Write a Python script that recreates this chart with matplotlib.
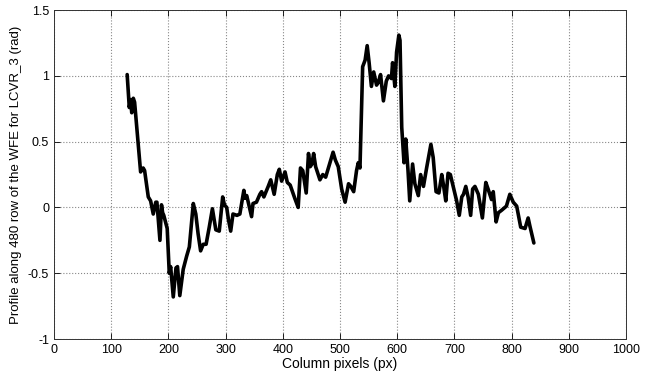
import matplotlib
matplotlib.use('Agg')
import matplotlib.pyplot as plt

# profile values
col_px = [128, 131.7, 134, 136, 138.7, 141, 145.7, 151.5, 156, 158.5, 164.9, 169,
          173.6, 178, 180, 185.3, 188, 190, 192, 198, 201.6, 204, 208.6, 213.3,
          216, 220, 226, 232, 236.7, 240.8, 243.6, 248, 252, 256.4, 261, 266,
          271.5, 277, 283, 289, 295, 298, 302, 305, 309, 313, 320, 325, 332,
          334, 337, 345.5, 348, 354, 360, 363, 367, 374.6, 379, 385, 390.5, 394,
          398, 404, 408, 413, 421, 427, 431, 435, 441, 445, 448, 451, 454, 457.5,
          465, 470, 475, 482.5, 488, 492, 497, 503, 509, 515, 519, 524, 529, 532,
          535, 539.7, 544, 547.6, 551, 555, 559, 564, 567, 571, 576, 581, 585,
          590, 592, 596, 599, 603, 605, 608, 612, 615, 619, 622, 627, 631, 637,
          641, 646, 651.5, 659, 663, 668, 673, 678, 681, 685, 689, 693, 698, 704,
          708.6, 713, 716, 720, 724, 728.5, 732, 736, 742, 749, 755, 759, 765,
          768, 773, 777, 783, 791, 797, 803, 809, 816, 823.6, 829, 832, 839]
profile = [1.01, 0.76, 0.82, 0.72, 0.83, 0.80, 0.56, 0.27, 0.30, 0.28, 0.08, 0.05,
           -0.05, 0.04, 0.04, -0.25, 0.02, -0.04, -0.06, -0.16, -0.50, -0.45, -0.68, -0.46,
           -0.45, -0.67, -0.47, -0.37, -0.30, -0.10, 0.03, -0.05, -0.20, -0.33, -0.28, -0.28,
           -0.15, -0.01, -0.17, -0.18, 0.08, 0.02, 0.00, -0.09, -0.18, -0.05, -0.06, -0.05, 0.13,
           0.07, 0.09, -0.07, 0.03, 0.04, 0.10, 0.12, 0.08, 0.16, 0.21, 0.10, 0.25, 0.29,
           0.20, 0.27, 0.19, 0.17, 0.07, 0.00, 0.30, 0.28, 0.11, 0.41, 0.31, 0.33, 0.41, 0.31,
           0.21, 0.25, 0.23, 0.34, 0.42, 0.36, 0.31, 0.14, 0.04, 0.18, 0.16, 0.12, 0.28, 0.34,
           0.30, 1.07, 1.12, 1.23, 1.10, 0.92, 1.03, 0.93, 0.95, 1.01, 0.81, 0.96, 1.00,
           0.98, 1.10, 0.92, 1.18, 1.31, 1.27, 0.61, 0.34, 0.52, 0.28, 0.05, 0.33, 0.18, 0.09,
           0.25, 0.16, 0.30, 0.48, 0.38, 0.12, 0.11, 0.25, 0.17, 0.05, 0.26, 0.25, 0.16, 0.05,
           -0.06, 0.08, 0.10, 0.16, 0.08, -0.06, 0.14, 0.16, 0.10, -0.08, 0.19, 0.14, 0.06,
           0.12, -0.11, -0.04, -0.02, 0.01, 0.10, 0.04, 0.01, -0.15, -0.16, -0.08, -0.14, -0.27]

x_ticks = list(range(0, 1001, 100))
y_ticks = [-1, -0.5, 0, 0.5, 1, 1.5]
y_tick_labels = ['-1', '-0.5', '0', '0.5', '1', '1.5']

plt.rcParams['font.family'] = ['Liberation Sans', 'DejaVu Sans']

fig = plt.figure(figsize=(6.5, 3.75), dpi=100)
ax = fig.add_axes([0.083, 0.096, 0.880, 0.877])

ax.plot(col_px, profile, color='black', lw=2.6, solid_joinstyle='round',
        solid_capstyle='round')

ax.set_xlim(0, 1000)
ax.set_ylim(-1, 1.5)
ax.set_xticks(x_ticks)
ax.set_yticks(y_ticks)
ax.set_yticklabels(y_tick_labels)
ax.grid(True, linestyle=':', color='#888888', lw=0.8)
ax.tick_params(direction='in', top=True, right=True, labelsize=9, length=4, width=0.6)
for s in ax.spines.values():
    s.set_linewidth(0.7)
    s.set_color('#333333')

ax.set_xlabel('Column pixels (px)', fontsize=10, labelpad=1)
ax.set_ylabel('Profile along 480 row of the WFE for LCVR_3 (rad)', fontsize=9.5, labelpad=4)

plt.savefig('out.png', dpi=100)
